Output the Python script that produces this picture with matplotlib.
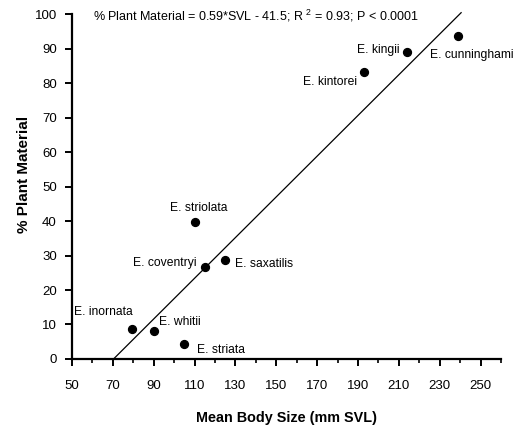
import numpy as np
import matplotlib
matplotlib.use("Agg")
import matplotlib.pyplot as plt

plt.rcParams['font.family'] = ['Liberation Sans', 'DejaVu Sans']
plt.rcParams['mathtext.fontset'] = 'custom'
plt.rcParams['mathtext.rm'] = 'Liberation Sans'
plt.rcParams['mathtext.it'] = 'Liberation Sans'

# species data
species = ["E. cunninghami", "E. kingii", "E. kintorei", "E. striolata", "E. coventryi",
           "E. saxatilis", "E. inornata", "E. whitii", "E. striata"]
svl = [239, 214, 193, 110, 115.2, 125, 79.6, 90.1, 104.8]
plant = [93.6, 88.9, 83.2, 39.7, 26.7, 28.6, 8.6, 8.2, 4.3]

# label offsets (pixels) and alignment
offsets = [(-28, -19, 'left'), (-7, 2, 'right'), (-7, -10, 'right'), (4, 14, 'center'),
           (-9, 4, 'right'), (10, -4, 'left'), (-58, 17, 'left'), (5, 9, 'left'), (13, -6, 'left')]

slope, intercept = 0.59, -41.5
line_x = np.array([-intercept / slope, 240.5])

fig = plt.figure(figsize=(5.27, 4.26), dpi=100)
ax = fig.add_axes([0.1366, 0.1573, 0.814, 0.834])

ax.plot(line_x, slope * line_x + intercept, color='black', lw=0.9)
ax.scatter(svl, plant, s=32, color='black', zorder=3)

for name, x, y, (dx, dy, ha) in zip(species, svl, plant, offsets):
    ax.annotate(name, (x, y), xytext=(dx, dy), textcoords='offset pixels',
                ha=ha, va='center', fontsize=8.7)

ax.text(60.5, 99.5, "% Plant Material = 0.59*SVL - 41.5; R $^{2}$ = 0.93; P < 0.0001",
        ha='left', va='center', fontsize=9)

ax.set_xlim(50, 260)
ax.set_ylim(0, 103)
ax.spines['top'].set_visible(False)
ax.spines['right'].set_visible(False)
ax.spines['left'].set_bounds(0, 100)
ax.spines['left'].set_linewidth(1.6)
ax.spines['bottom'].set_linewidth(1.6)

ax.set_xticks(np.arange(50, 251, 20))
ax.set_xticks(np.arange(60, 261, 20), minor=True)
ax.set_yticks(np.arange(0, 101, 10))
ax.tick_params(axis='x', which='major', direction='out', length=5, width=1.4, pad=10, labelsize=9.5)
ax.tick_params(axis='x', which='minor', direction='out', length=3, width=1.2)
ax.tick_params(axis='y', which='major', direction='out', length=5, width=1.4, pad=6, labelsize=9.5)

ax.set_xlabel("Mean Body Size (mm SVL)", fontsize=10.4, fontweight='bold', labelpad=14)
ax.set_ylabel("% Plant Material", fontsize=11, fontweight='bold', labelpad=14)
ax.yaxis.set_label_coords(-0.096, 0.52)

fig.savefig("out.png", dpi=100)
